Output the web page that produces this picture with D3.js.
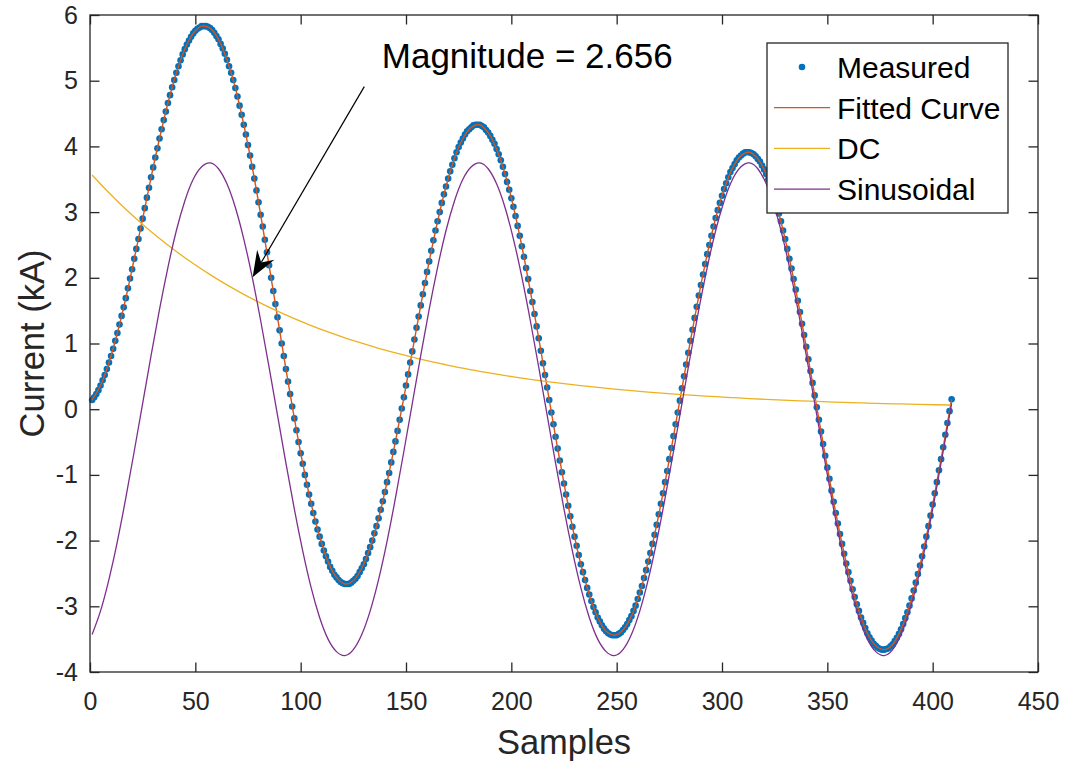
<!DOCTYPE html>
<meta charset="utf-8">
<style>
body { margin: 0; background: #fff; }
svg { display: block; font-family: "Liberation Sans", Arial, Helvetica, sans-serif; }
.axis .domain { display: none; }
.axis line { stroke: #262626; stroke-width: 1.3; }
.axis text { fill: #262626; font-size: 25px; font-family: "Liberation Sans", Arial, Helvetica, sans-serif; }
</style>
<svg width="1067" height="766"></svg>
<script src="https://cdn.jsdelivr.net/npm/d3@7"></script>
<script>

// samples are numbered from 1, each series is listed at a fixed sample step
var firstSample = 1;

var measuredStep = 1;
var measured = [
  0.14,0.18,0.23,0.29,0.36,0.44,0.52,0.61,
  0.71,0.81,0.92,1.04,1.16,1.29,1.42,1.55,
  1.69,1.84,1.99,2.13,2.29,2.44,2.59,2.75,
  2.90,3.06,3.22,3.37,3.53,3.68,3.83,3.97,
  4.12,4.26,4.40,4.53,4.66,4.78,4.90,5.01,
  5.12,5.22,5.31,5.40,5.48,5.55,5.61,5.67,
  5.72,5.76,5.79,5.81,5.83,5.83,5.83,5.82,
  5.80,5.77,5.73,5.68,5.63,5.56,5.49,5.41,
  5.32,5.22,5.12,5.01,4.89,4.76,4.62,4.48,
  4.33,4.18,4.02,3.86,3.69,3.51,3.33,3.15,
  2.96,2.78,2.58,2.39,2.19,2.00,1.80,1.60,
  1.40,1.20,1.00,0.81,0.61,0.42,0.23,0.04,
  -0.14,-0.32,-0.50,-0.67,-0.83,-1.00,-1.15,-1.30,
  -1.44,-1.58,-1.71,-1.83,-1.94,-2.05,-2.15,-2.24,
  -2.32,-2.40,-2.46,-2.52,-2.56,-2.60,-2.63,-2.65,
  -2.66,-2.66,-2.66,-2.64,-2.61,-2.58,-2.54,-2.48,
  -2.42,-2.36,-2.28,-2.19,-2.10,-2.00,-1.89,-1.78,
  -1.66,-1.53,-1.40,-1.26,-1.11,-0.97,-0.81,-0.65,
  -0.49,-0.33,-0.16,0.01,0.18,0.36,0.53,0.71,
  0.88,1.06,1.24,1.41,1.58,1.75,1.92,2.09,
  2.25,2.41,2.57,2.72,2.86,3.00,3.14,3.27,
  3.39,3.51,3.62,3.72,3.82,3.91,3.99,4.06,
  4.12,4.18,4.23,4.26,4.29,4.32,4.33,4.33,
  4.33,4.31,4.29,4.25,4.21,4.16,4.10,4.04,
  3.96,3.88,3.79,3.69,3.58,3.46,3.34,3.21,
  3.08,2.94,2.79,2.64,2.48,2.32,2.15,1.98,
  1.80,1.63,1.45,1.26,1.08,0.89,0.70,0.52,
  0.33,0.14,-0.05,-0.23,-0.42,-0.60,-0.78,-0.96,
  -1.13,-1.30,-1.47,-1.63,-1.79,-1.94,-2.08,-2.22,
  -2.36,-2.48,-2.60,-2.72,-2.82,-2.92,-3.01,-3.09,
  -3.17,-3.23,-3.29,-3.34,-3.38,-3.41,-3.43,-3.44,
  -3.44,-3.44,-3.42,-3.40,-3.36,-3.32,-3.27,-3.21,
  -3.15,-3.07,-2.99,-2.89,-2.79,-2.69,-2.57,-2.45,
  -2.32,-2.19,-2.05,-1.91,-1.76,-1.60,-1.44,-1.28,
  -1.11,-0.94,-0.76,-0.59,-0.41,-0.23,-0.05,0.13,
  0.32,0.50,0.68,0.86,1.04,1.21,1.39,1.56,
  1.73,1.89,2.05,2.21,2.36,2.50,2.64,2.78,
  2.91,3.03,3.14,3.25,3.35,3.44,3.53,3.61,
  3.67,3.73,3.79,3.83,3.86,3.89,3.91,3.91,
  3.91,3.90,3.88,3.85,3.81,3.77,3.71,3.65,
  3.58,3.50,3.41,3.31,3.21,3.10,2.98,2.86,
  2.72,2.59,2.44,2.29,2.14,1.98,1.82,1.65,
  1.48,1.30,1.13,0.95,0.76,0.58,0.40,0.21,
  0.03,-0.16,-0.34,-0.53,-0.71,-0.89,-1.06,-1.24,
  -1.41,-1.58,-1.74,-1.90,-2.05,-2.20,-2.35,-2.48,
  -2.61,-2.74,-2.86,-2.97,-3.07,-3.17,-3.25,-3.33,
  -3.41,-3.47,-3.52,-3.57,-3.60,-3.63,-3.65,-3.66,
  -3.66,-3.65,-3.64,-3.61,-3.58,-3.53,-3.48,-3.42,
  -3.35,-3.27,-3.18,-3.09,-2.99,-2.88,-2.76,-2.64,
  -2.51,-2.38,-2.24,-2.09,-1.94,-1.78,-1.62,-1.45,
  -1.28,-1.11,-0.93,-0.76,-0.58,-0.39,-0.21,-0.03,
  0.15
];

var fittedStep = 4;
var fitted = [
  0.14,0.36,0.71,1.16,1.69,2.29,2.90,3.53,4.12,4.66,5.12,5.48,5.72,5.83,5.80,5.63,
  5.32,4.89,4.33,3.69,2.96,2.19,1.40,0.61,-0.14,-0.83,-1.44,-1.94,-2.32,-2.56,-2.66,-2.61,
  -2.42,-2.10,-1.66,-1.11,-0.49,0.18,0.88,1.58,2.25,2.86,3.39,3.82,4.12,4.29,4.33,4.21,
  3.96,3.58,3.08,2.48,1.80,1.08,0.33,-0.42,-1.13,-1.79,-2.36,-2.82,-3.17,-3.38,-3.44,-3.36,
  -3.15,-2.79,-2.32,-1.76,-1.11,-0.41,0.32,1.04,1.73,2.36,2.91,3.35,3.67,3.86,3.91,3.81,
  3.58,3.21,2.72,2.14,1.48,0.76,0.03,-0.71,-1.41,-2.05,-2.61,-3.07,-3.41,-3.60,-3.66,-3.58,
  -3.35,-2.99,-2.51,-1.94,-1.28,-0.58,0.15
];

var sinusoidalStep = 4;
var sinusoidal = [
  -3.43,-3.07,-2.59,-2.01,-1.35,-0.64,0.09,0.82,1.52,2.16,2.72,3.17,3.50,3.69,3.75,3.66,
  3.43,3.07,2.59,2.01,1.35,0.64,-0.09,-0.82,-1.52,-2.16,-2.72,-3.17,-3.50,-3.69,-3.75,-3.66,
  -3.43,-3.07,-2.59,-2.01,-1.35,-0.64,0.09,0.82,1.52,2.16,2.72,3.17,3.50,3.69,3.75,3.66,
  3.43,3.07,2.59,2.01,1.35,0.64,-0.09,-0.82,-1.52,-2.16,-2.72,-3.17,-3.50,-3.69,-3.75,-3.66,
  -3.43,-3.07,-2.59,-2.01,-1.35,-0.64,0.09,0.82,1.52,2.16,2.72,3.17,3.50,3.69,3.75,3.66,
  3.43,3.07,2.59,2.01,1.35,0.64,-0.09,-0.82,-1.52,-2.16,-2.72,-3.17,-3.50,-3.69,-3.75,-3.66,
  -3.43,-3.07,-2.59,-2.01,-1.35,-0.64,0.09
];

var dcStep = 8;
var dc = [
  3.565,3.294,3.043,2.811,2.597,2.399,2.217,2.048,1.892,1.748,1.615,1.492,1.378,
  1.273,1.176,1.087,1.004,0.927,0.857,0.792,0.731,0.676,0.624,0.577,0.533,0.492,
  0.455,0.420,0.388,0.359,0.331,0.306,0.283,0.261,0.241,0.223,0.206,0.190,0.176,
  0.162,0.150,0.139,0.128,0.118,0.109,0.101,0.093,0.086,0.080,0.074,0.068,0.063
];

var xTicks = [0, 50, 100, 150, 200, 250, 300, 350, 400, 450];
var yTicks = [-4, -3, -2, -1, 0, 1, 2, 3, 4, 5, 6];
var seriesNames = ["Measured", "Fitted Curve", "DC", "Sinusoidal"];
var seriesColors = ["#0072bd", "#d95319", "#edb120", "#7e2f8e"];
var annotationText = "Magnitude = 2.656";

var svg = d3.select("svg"),
    margin = {top: 15, right: 29, bottom: 94, left: 90},
    width = +svg.attr("width") - margin.left - margin.right,
    height = +svg.attr("height") - margin.top - margin.bottom,
    g = svg.append("g").attr("transform", "translate(" + margin.left + "," + margin.top + ")");

var x = d3.scaleLinear().domain([0, 450]).range([0, width]);
var y = d3.scaleLinear().domain([-4, 6]).range([height, 0]);

function points(values, step) {
  return values.map(function(v, i) { return [firstSample + i * step, v]; });
}

var line = d3.line()
    .x(function(d) { return x(d[0]); })
    .y(function(d) { return y(d[1]); });

// measured samples
g.append("g")
  .selectAll("circle")
  .data(points(measured, measuredStep))
  .enter().append("circle")
    .attr("cx", function(d) { return x(d[0]); })
    .attr("cy", function(d) { return y(d[1]); })
    .attr("r", 3.3)
    .attr("fill", seriesColors[0]);

g.append("path")
    .attr("fill", "none")
    .attr("stroke", seriesColors[1])
    .attr("stroke-width", 1.4)
    .attr("d", line.curve(d3.curveCatmullRom)(points(fitted, fittedStep)));

g.append("path")
    .attr("fill", "none")
    .attr("stroke", seriesColors[2])
    .attr("stroke-width", 1.3)
    .attr("d", line.curve(d3.curveMonotoneX)(points(dc, dcStep)));

g.append("path")
    .attr("fill", "none")
    .attr("stroke", seriesColors[3])
    .attr("stroke-width", 1.3)
    .attr("d", line.curve(d3.curveNatural)(points(sinusoidal, sinusoidalStep)));

// axes, ticks inside on all four sides
var tick = 9.5;
g.append("g")
    .attr("class", "axis")
    .attr("transform", "translate(0," + height + ")")
    .call(d3.axisBottom(x).tickValues(xTicks).tickSize(-tick).tickPadding(20).tickFormat(function(d) { return String(d); }));
g.append("g")
    .attr("class", "axis")
    .call(d3.axisTop(x).tickValues(xTicks).tickSize(-tick).tickFormat(""));
g.append("g")
    .attr("class", "axis")
    .call(d3.axisLeft(y).tickValues(yTicks).tickSize(-tick).tickPadding(12).tickFormat(function(d) { return String(d); }));
g.append("g")
    .attr("class", "axis")
    .attr("transform", "translate(" + width + ",0)")
    .call(d3.axisRight(y).tickValues(yTicks).tickSize(-tick).tickFormat(""));

g.append("rect")
    .attr("width", width)
    .attr("height", height)
    .attr("fill", "none")
    .attr("stroke", "#262626")
    .attr("stroke-width", 1.3);

svg.append("text")
    .attr("x", margin.left + width / 2)
    .attr("y", 754)
    .attr("text-anchor", "middle")
    .attr("font-size", 34.5)
    .attr("fill", "#262626")
    .text("Samples");

svg.append("text")
    .attr("transform", "translate(44," + (margin.top + height / 2) + ") rotate(-90)")
    .attr("text-anchor", "middle")
    .attr("font-size", 34.5)
    .attr("fill", "#262626")
    .text("Current (kA)");

// annotation arrow (data coordinates)
var tail = [x(130.2), y(4.91)], tip = [x(77.2), y(2.01)];
var dx = tip[0] - tail[0], dy = tip[1] - tail[1], len = Math.sqrt(dx * dx + dy * dy);
var ux = dx / len, uy = dy / len, nx = -uy, ny = ux;
var headLen = 26, headHalf = 10, notch = 17;
g.append("line")
    .attr("x1", tail[0]).attr("y1", tail[1])
    .attr("x2", tip[0] - ux * notch).attr("y2", tip[1] - uy * notch)
    .attr("stroke", "#000")
    .attr("stroke-width", 1.2);
g.append("path")
    .attr("d", "M" + tip[0] + "," + tip[1]
      + "L" + (tip[0] - ux * headLen + nx * headHalf) + "," + (tip[1] - uy * headLen + ny * headHalf)
      + "L" + (tip[0] - ux * notch) + "," + (tip[1] - uy * notch)
      + "L" + (tip[0] - ux * headLen - nx * headHalf) + "," + (tip[1] - uy * headLen - ny * headHalf)
      + "Z")
    .attr("fill", "#000");

g.append("text")
    .attr("x", x(138.5))
    .attr("y", y(5.19))
    .attr("font-size", 35)
    .attr("fill", "#000")
    .text(annotationText);

// legend
var legend = svg.append("g").attr("transform", "translate(767,43)");
legend.append("rect")
    .attr("width", 241)
    .attr("height", 170)
    .attr("fill", "#fff")
    .attr("stroke", "#262626")
    .attr("stroke-width", 1.3);

var item = legend.selectAll(".item")
    .data(seriesNames)
    .enter().append("g")
      .attr("class", "item")
      .attr("transform", function(d, i) { return "translate(0," + (24 + i * 40.7) + ")"; });

item.filter(function(d, i) { return i === 0; })
  .append("circle")
    .attr("cx", 35)
    .attr("r", 3.3)
    .attr("fill", seriesColors[0]);

item.filter(function(d, i) { return i > 0; })
  .append("line")
    .attr("x1", 7)
    .attr("x2", 63)
    .attr("stroke", function(d) { return seriesColors[seriesNames.indexOf(d)]; })
    .attr("stroke-width", 1.3);

item.append("text")
    .attr("x", 70)
    .attr("dy", "0.36em")
    .attr("font-size", 30)
    .attr("fill", "#000")
    .text(function(d) { return d; });

</script>
